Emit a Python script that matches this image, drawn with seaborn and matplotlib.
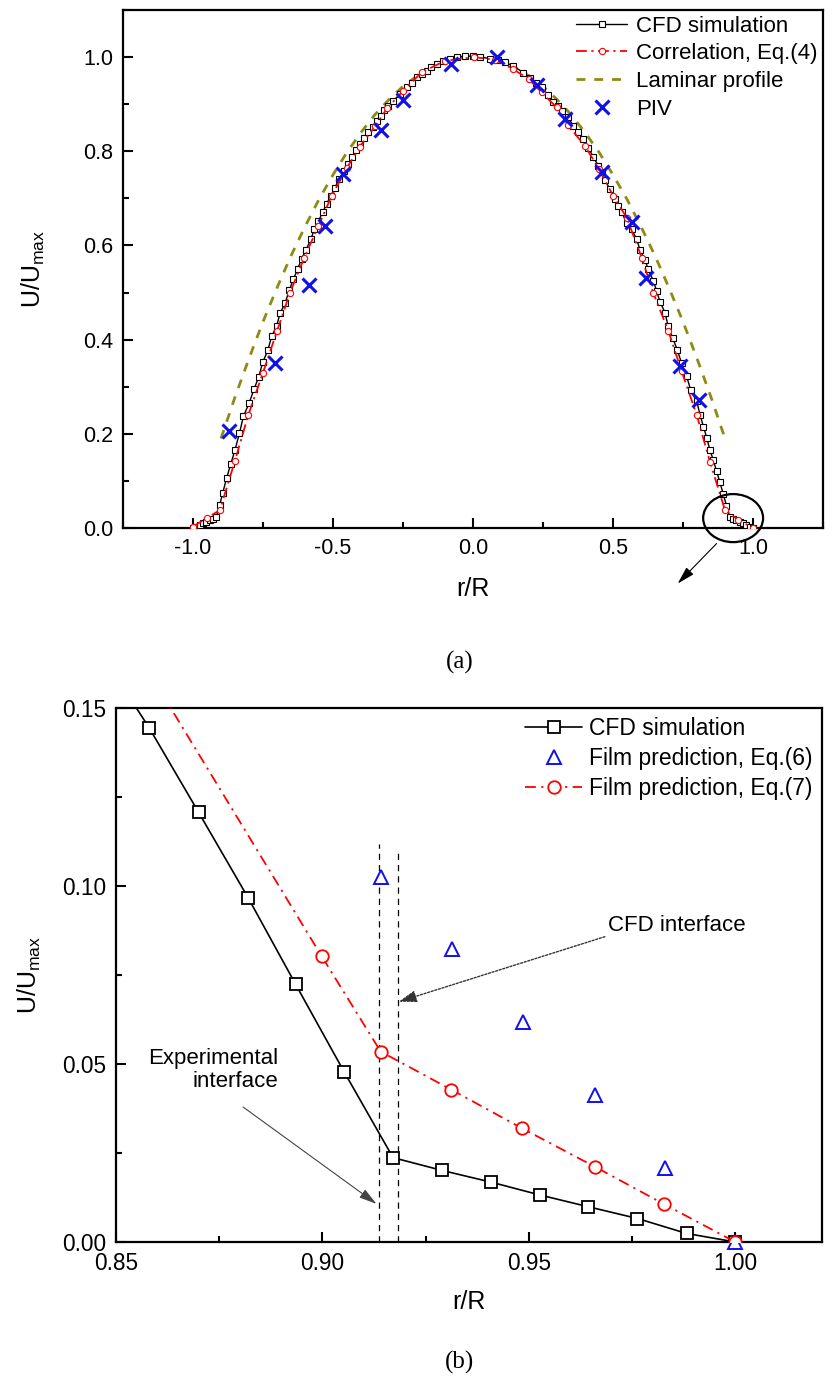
import numpy as np
import pandas as pd
import matplotlib
matplotlib.use("Agg")
import matplotlib.pyplot as plt
import seaborn as sns
from matplotlib.patches import Ellipse
from matplotlib.ticker import MultipleLocator, FormatStrFormatter

# ---------------- data: panel (a) ----------------
cfd_r = [-1.0, -0.988, -0.976, -0.964, -0.953, -0.941, -0.929, -0.917, -0.905, -0.894,
         -0.880, -0.865, -0.850, -0.834, -0.820, -0.799, -0.782, -0.765, -0.751, -0.733,
         -0.719, -0.701, -0.689, -0.671, -0.656, -0.642, -0.626, -0.612, -0.596, -0.579,
         -0.567, -0.552, -0.537, -0.5225, -0.508, -0.493, -0.4775, -0.461, -0.445, -0.433,
         -0.418, -0.404, -0.388, -0.374, -0.358, -0.344, -0.330, -0.318, -0.3025, -0.285,
         -0.261, -0.237, -0.219, -0.199, -0.183, -0.165, -0.151, -0.130, -0.106, -0.082,
         -0.058, -0.029, 0.0, 0.025, 0.061, 0.090, 0.114, 0.144, 0.180, 0.204,
         0.225, 0.245, 0.269, 0.287, 0.302, 0.317, 0.340, 0.358, 0.376, 0.394,
         0.412, 0.430, 0.448, 0.460, 0.471, 0.489, 0.507, 0.519, 0.531, 0.549,
         0.567, 0.585, 0.596, 0.614, 0.626, 0.644, 0.656, 0.668, 0.686, 0.697,
         0.713, 0.729, 0.745, 0.763, 0.777, 0.799, 0.811, 0.823, 0.835, 0.846,
         0.858, 0.870, 0.882, 0.8935, 0.9053, 0.9171, 0.929, 0.9409, 0.9527, 0.9644,
         0.9763, 0.9882, 1.0]
cfd_u = [0.0, 0.003, 0.0066, 0.010, 0.0132, 0.0168, 0.020, 0.0237, 0.048, 0.074,
         0.106, 0.136, 0.166, 0.2015, 0.237, 0.266, 0.295, 0.321, 0.352, 0.377,
         0.407, 0.430, 0.456, 0.478, 0.505, 0.528, 0.550, 0.572, 0.591, 0.613,
         0.634, 0.652, 0.670, 0.689, 0.705, 0.723, 0.742, 0.758, 0.772, 0.788,
         0.802, 0.815, 0.829, 0.841, 0.8525, 0.864, 0.875, 0.888, 0.896, 0.907,
         0.921, 0.936, 0.946, 0.957, 0.964, 0.971, 0.978, 0.985, 0.992, 0.997,
         1.0, 1.002, 1.002, 1.0, 0.997, 0.993, 0.989, 0.981, 0.967, 0.955,
         0.945, 0.936, 0.919, 0.905, 0.896, 0.886, 0.872, 0.854, 0.841, 0.827,
         0.808, 0.787, 0.769, 0.755, 0.740, 0.719, 0.698, 0.684, 0.670, 0.648,
         0.634, 0.613, 0.591, 0.570, 0.549, 0.525, 0.503, 0.480, 0.457, 0.428,
         0.404, 0.379, 0.350, 0.322, 0.294, 0.269, 0.240, 0.2155, 0.191, 0.166,
         0.1445, 0.1207, 0.0967, 0.0724, 0.0477, 0.0237, 0.0201, 0.0168, 0.0132, 0.0099,
         0.0066, 0.0024, 0.0]

corr_r = [-1.0, -0.951, -0.904, -0.85, -0.8025, -0.75, -0.70, -0.654, -0.6025, -0.5525,
          -0.505, -0.45, -0.404, -0.35, -0.306, -0.25, -0.183, -0.10, 0.005, 0.08,
          0.144, 0.200, 0.245, 0.299, 0.340, 0.400, 0.45, 0.501, 0.549, 0.6025,
          0.644, 0.698, 0.745, 0.799, 0.846, 0.900, 0.948, 1.0]
corr_u = [0.003, 0.021, 0.038, 0.143, 0.240, 0.330, 0.418, 0.499, 0.574, 0.641,
          0.705, 0.765, 0.810, 0.853, 0.892, 0.928, 0.968, 0.992, 1.0, 0.994,
          0.974, 0.953, 0.925, 0.893, 0.855, 0.811, 0.762, 0.705, 0.659, 0.574,
          0.499, 0.418, 0.333, 0.240, 0.141, 0.038, 0.017, 0.0]

lam_r = [-0.90, -0.85, -0.80, -0.75, -0.70, -0.65, -0.60, -0.55, -0.50, -0.45,
         -0.40, -0.35, -0.30, -0.25, -0.20, -0.15, -0.10, -0.05, 0.0, 0.05,
         0.10, 0.15, 0.20, 0.25, 0.30, 0.35, 0.40, 0.45, 0.50, 0.55,
         0.60, 0.65, 0.70, 0.75, 0.80, 0.85, 0.90]
lam_u = [0.190, 0.278, 0.360, 0.438, 0.510, 0.578, 0.640, 0.698, 0.750, 0.798,
         0.840, 0.878, 0.910, 0.938, 0.960, 0.978, 0.990, 0.998, 1.0, 0.998,
         0.990, 0.978, 0.960, 0.938, 0.910, 0.878, 0.840, 0.798, 0.750, 0.698,
         0.640, 0.578, 0.510, 0.438, 0.360, 0.278, 0.190]

piv_r = [-0.871, -0.707, -0.585, -0.529, -0.463, -0.329, -0.251, -0.080,
         0.085, 0.2275, 0.329, 0.462, 0.567, 0.617, 0.739, 0.807]
piv_u = [0.207, 0.350, 0.515, 0.641, 0.751, 0.845, 0.909, 0.985,
         1.0, 0.941, 0.868, 0.755, 0.650, 0.531, 0.345, 0.272]

# ---------------- data: panel (b) ----------------
eq6_r = [0.9142, 0.9315, 0.9486, 0.9659, 0.983, 1.0]
eq6_u = [0.1026, 0.0822, 0.0619, 0.0413, 0.0207, 0.0]

eq7_r = [0.858, 0.8998, 0.9141, 0.9312, 0.9484, 0.9659, 0.9828, 1.0]
eq7_u = [0.160, 0.0803, 0.0535, 0.0428, 0.0319, 0.0212, 0.0106, 0.0]

exp_interface_r = 0.9137
cfd_interface_r = 0.9182
interface_top = [0.1118, 0.110]

labels_a = ["CFD simulation", "Correlation, Eq.(4)", "Laminar profile", "PIV"]
labels_b = ["CFD simulation", "Film prediction, Eq.(6)", "Film prediction, Eq.(7)"]

df_cfd = pd.DataFrame({"r": cfd_r, "u": cfd_u})
df_corr = pd.DataFrame({"r": corr_r, "u": corr_u})
df_lam = pd.DataFrame({"r": lam_r, "u": lam_u})
df_piv = pd.DataFrame({"r": piv_r, "u": piv_u})
df_eq6 = pd.DataFrame({"r": eq6_r, "u": eq6_u})
df_eq7 = pd.DataFrame({"r": eq7_r, "u": eq7_u})

# ---------------- style ----------------
sns.set_theme(style="ticks")
plt.rcParams["font.family"] = ["Liberation Sans", "DejaVu Sans"]
plt.rcParams["mathtext.fontset"] = "custom"
plt.rcParams["mathtext.rm"] = "Liberation Sans"
plt.rcParams["mathtext.it"] = "Liberation Sans:italic"
plt.rcParams["axes.edgecolor"] = "black"
plt.rcParams["axes.labelcolor"] = "black"
plt.rcParams["text.color"] = "black"
plt.rcParams["xtick.color"] = "black"
plt.rcParams["ytick.color"] = "black"
plt.rcParams["axes.linewidth"] = 1.6

fig = plt.figure(figsize=(8.37, 13.9), dpi=100)
ax1 = fig.add_axes([123 / 837, 1 - 528 / 1390, 700 / 837, 518 / 1390])
ax2 = fig.add_axes([116 / 837, 1 - 1242 / 1390, 706 / 837, 534 / 1390])

# ---------------- panel (a) ----------------
sns.lineplot(data=df_cfd, x="r", y="u", ax=ax1, color="black", lw=1.0,
             marker="s", markersize=4, markerfacecolor="white",
             markeredgecolor="black", markeredgewidth=0.8,
             errorbar=None, label=labels_a[0], zorder=3)
sns.lineplot(data=df_corr, x="r", y="u", ax=ax1, color="red", lw=1.3,
             dashes=False, linestyle=(0, (6, 2.5, 1.2, 2.5)),
             marker="o", markersize=4.5, markerfacecolor="white",
             markeredgecolor="red", markeredgewidth=0.8,
             errorbar=None, label=labels_a[1], zorder=4)
sns.lineplot(data=df_lam, x="r", y="u", ax=ax1, color="#8c8c14", lw=2.0,
             linestyle=(0, (3.2, 3.2)), errorbar=None, label=labels_a[2], zorder=2)
sns.lineplot(data=df_piv, x="r", y="u", ax=ax1, color="#1010ee", linestyle="none",
             marker="x", markersize=10, markeredgewidth=2.2,
             markeredgecolor="#1010ee", errorbar=None, label=labels_a[3], zorder=5)

ax1.set_xlim(-1.25, 1.25)
ax1.set_ylim(0.0, 1.1)
ax1.xaxis.set_major_locator(MultipleLocator(0.5))
ax1.xaxis.set_minor_locator(MultipleLocator(0.25))
ax1.yaxis.set_major_locator(MultipleLocator(0.2))
ax1.yaxis.set_minor_locator(MultipleLocator(0.1))
ax1.xaxis.set_major_formatter(FormatStrFormatter("%.1f"))
ax1.yaxis.set_major_formatter(FormatStrFormatter("%.1f"))
ax1.set_xlabel("r/R", fontsize=18, labelpad=13)
ax1.set_ylabel(r"U/U$_{\mathrm{max}}$", fontsize=18, labelpad=26)

ax1.legend(loc="upper right", bbox_to_anchor=(1.0, 1.0), frameon=False,
           fontsize=16, labelspacing=0.3, handlelength=2.3,
           handletextpad=0.4, borderaxespad=0.1, borderpad=0.15)

ax1.add_patch(Ellipse((0.929, 0.021), 0.214, 0.102, fill=False, lw=1.6,
                      ec="black", clip_on=False, zorder=6))
ax1.annotate("", xy=(0.731, -0.118), xytext=(0.870, -0.033),
             xycoords="data", textcoords="data", annotation_clip=False,
             arrowprops=dict(arrowstyle="-|>,head_length=0.9,head_width=0.25",
                             color="black", lw=0.8, mutation_scale=12,
                             shrinkA=0, shrinkB=0))

# ---------------- panel (b) ----------------
sns.lineplot(data=df_cfd, x="r", y="u", ax=ax2, color="black", lw=1.2,
             marker="s", markersize=8.5, markerfacecolor="white",
             markeredgecolor="black", markeredgewidth=1.3,
             errorbar=None, label=labels_b[0], zorder=3)
sns.lineplot(data=df_eq6, x="r", y="u", ax=ax2, color="#1010ee", linestyle="none",
             marker="^", markersize=10, markerfacecolor="white",
             markeredgecolor="#1010ee", markeredgewidth=1.4,
             errorbar=None, label=labels_b[1], zorder=4, clip_on=False)
sns.lineplot(data=df_eq7, x="r", y="u", ax=ax2, color="red", lw=1.3,
             linestyle=(0, (6, 3, 1.2, 3)), markevery=list(range(1, len(eq7_r))),
             marker="o", markersize=9, markerfacecolor="white",
             markeredgecolor="red", markeredgewidth=1.3,
             errorbar=None, label=labels_b[2], zorder=4)

ax2.plot([exp_interface_r, exp_interface_r], [0, interface_top[0]], color="black",
         lw=0.9, linestyle=(0, (5, 4)), zorder=2)
ax2.plot([cfd_interface_r, cfd_interface_r], [0, interface_top[1]], color="black",
         lw=0.9, linestyle=(0, (5, 4)), zorder=2)

ax2.annotate("CFD interface", xy=(0.9185, 0.0675), xytext=(0.9692, 0.0890),
             fontsize=16, ha="left", va="center",
             arrowprops=dict(arrowstyle="-|>,head_length=0.9,head_width=0.3",
                             color="#333333", lw=1.0, linestyle=(0, (1.5, 1.2)),
                             mutation_scale=12, shrinkA=0, shrinkB=0,
                             relpos=(0.0, 0.0)))
ax2.text(0.8893, 0.0483, "Experimental\ninterface", fontsize=16, ha="right",
         va="center", multialignment="right", linespacing=1.1)
ax2.annotate("", xy=(0.9131, 0.0107), xytext=(0.8808, 0.0379),
             arrowprops=dict(arrowstyle="-|>,head_length=0.9,head_width=0.25",
                             color="#444444", lw=0.8, mutation_scale=12,
                             shrinkA=0, shrinkB=0))

ax2.set_xlim(0.85, 1.021)
ax2.set_ylim(0.0, 0.15)
ax2.xaxis.set_major_locator(MultipleLocator(0.05))
ax2.xaxis.set_minor_locator(MultipleLocator(0.025))
ax2.yaxis.set_major_locator(MultipleLocator(0.05))
ax2.yaxis.set_minor_locator(MultipleLocator(0.025))
ax2.xaxis.set_major_formatter(FormatStrFormatter("%.2f"))
ax2.yaxis.set_major_formatter(FormatStrFormatter("%.2f"))
ax2.set_xlabel("r/R", fontsize=18, labelpad=11)
ax2.set_ylabel(r"U/U$_{\mathrm{max}}$", fontsize=18, labelpad=14)

ax2.legend(loc="upper right", bbox_to_anchor=(1.0, 1.0), frameon=False,
           fontsize=16.5, labelspacing=0.3, handlelength=2.5,
           handletextpad=0.3, borderaxespad=0.1, borderpad=0.3)

for ax, ls in ((ax1, 15.5), (ax2, 16.3)):
    ax.tick_params(which="both", direction="in", top=False, right=False,
                   width=1.5, labelsize=ls, pad=7)
    ax.tick_params(which="major", length=7)
    ax.tick_params(which="minor", length=4)
    for s in ax.spines.values():
        s.set_linewidth(1.6)
        s.set_color("black")

fig.text(460 / 837, 1 - 662 / 1390, "(a)", fontsize=18, ha="center", va="center",
         family=["Liberation Serif", "DejaVu Serif"])
fig.text(460 / 837, 1 - 1362 / 1390, "(b)", fontsize=18, ha="center", va="center",
         family=["Liberation Serif", "DejaVu Serif"])

fig.savefig("out.png", dpi=100)
